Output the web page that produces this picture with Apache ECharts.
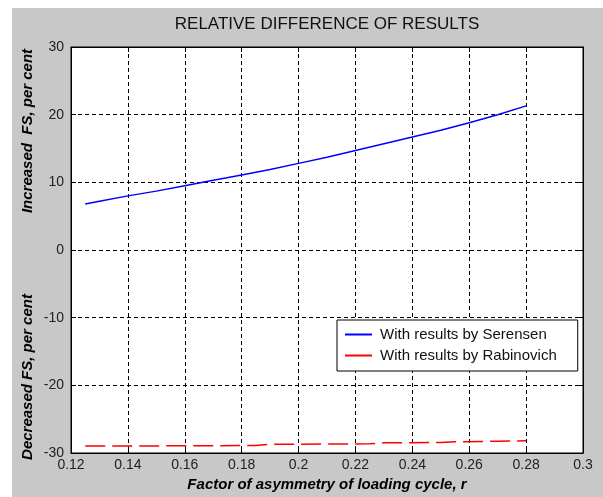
<!DOCTYPE html>
<html>
<head>
<meta charset="utf-8">
<script src="https://cdn.jsdelivr.net/npm/echarts@6/dist/echarts.min.js"></script>
<style>
  html, body { margin: 0; padding: 0; background: #ffffff; }
  #wrap { position: absolute; left: 12px; top: 8px; width: 591px; height: 489px; background: #c8c8c8; }
  #chart { width: 591px; height: 489px; }
</style>
</head>
<body>
<div id="wrap"><div id="chart"></div></div>
<script>
// ---- data ----
const titleText = 'RELATIVE DIFFERENCE OF RESULTS';
const xLabel = 'Factor of asymmetry of loading cycle, r';
const yLabelUpper = 'Increased  FS, per cent';
const yLabelLower = 'Decreased FS, per cent';
const seriesNames = ['With results by Serensen', 'With results by Rabinovich'];

const rSerensen = [0.125, 0.13, 0.14, 0.15, 0.16, 0.17, 0.18, 0.19, 0.20, 0.21, 0.22, 0.23, 0.24, 0.25, 0.26, 0.27, 0.28];
const serensen  = [6.8,   7.2,  8.0,  8.7,  9.5,  10.3, 11.1, 11.9, 12.8, 13.7, 14.7, 15.7, 16.7, 17.7, 18.8, 20.0, 21.3];

const rRabinovich = [0.125, 0.15, 0.185, 0.19, 0.20, 0.225, 0.23, 0.25, 0.255, 0.27, 0.28];
const rabinovich  = [-28.95, -28.95, -28.9, -28.7, -28.7, -28.65, -28.5, -28.45, -28.35, -28.25, -28.2];

const xMin = 0.12, xMax = 0.3, xStep = 0.02;
const yMin = -30, yMax = 30, yStep = 10;

// ---- chart ----
const chart = echarts.init(document.getElementById('chart'), null, { renderer: 'canvas' });
const FONT = 'Liberation Sans, Arial, sans-serif';
const gridLine = { show: true, lineStyle: { color: '#000', type: [4, 3], width: 1 } };
const fmtX = v => String(parseFloat(v.toFixed(2)));
const nameStyle = { fontFamily: FONT, fontSize: 15, fontWeight: 'bold', fontStyle: 'italic', fill: '#000', align: 'center', verticalAlign: 'middle' };

const option = {
  backgroundColor: '#c8c8c8',
  animation: false,
  title: {
    text: titleText, left: 310, top: 3, textAlign: 'center',
    textStyle: { fontFamily: FONT, fontSize: 17, fontWeight: 'normal', color: '#111' }
  },
  grid: { left: 59, right: 20, top: 39, bottom: 41, show: true, backgroundColor: '#fff', borderColor: '#000', borderWidth: 1 },
  legend: {
    orient: 'vertical', left: 325, top: 312,
    backgroundColor: '#fff', borderColor: '#000', borderWidth: 1, borderRadius: 0,
    padding: [7, 21, 8, 8], itemGap: 6, itemWidth: 27, itemHeight: 2,
    icon: 'rect',
    textStyle: { fontFamily: FONT, fontSize: 15, color: '#111', padding: [0, 0, 0, 3] },
    data: seriesNames
  },
  xAxis: [{
    type: 'value', min: xMin, max: xMax, interval: xStep,
    axisLine: { show: true, onZero: false, lineStyle: { color: '#000' } },
    axisTick: { show: true, inside: true, length: 5, lineStyle: { color: '#000' } },
    axisLabel: { formatter: fmtX, fontFamily: FONT, fontSize: 14, color: '#222', margin: 5 },
    splitLine: gridLine,
    name: xLabel, nameLocation: 'middle', nameGap: 24,
    nameTextStyle: { fontFamily: FONT, fontSize: 15, fontWeight: 'bold', fontStyle: 'italic', color: '#000' }
  }, {
    type: 'value', position: 'top', min: xMin, max: xMax, interval: xStep,
    axisLine: { show: true, onZero: false, lineStyle: { color: '#000' } },
    axisTick: { show: true, inside: true, length: 5, lineStyle: { color: '#000' } },
    axisLabel: { show: false }, splitLine: { show: false }
  }],
  yAxis: [{
    type: 'value', min: yMin, max: yMax, interval: yStep,
    axisLine: { show: true, onZero: false, lineStyle: { color: '#000' } },
    axisTick: { show: true, inside: true, length: 5, lineStyle: { color: '#000' } },
    axisLabel: { fontFamily: FONT, fontSize: 14, color: '#222', margin: 7 },
    splitLine: gridLine
  }, {
    type: 'value', position: 'right', min: yMin, max: yMax, interval: yStep,
    axisLine: { show: true, onZero: false, lineStyle: { color: '#000' } },
    axisTick: { show: true, inside: true, length: 5, lineStyle: { color: '#000' } },
    axisLabel: { show: false }, splitLine: { show: false }
  }],
  graphic: [
    { type: 'text', x: 16, y: 123, rotation: Math.PI / 2, style: Object.assign({ text: yLabelUpper }, nameStyle) },
    { type: 'text', x: 16, y: 369, rotation: Math.PI / 2, style: Object.assign({ text: yLabelLower }, nameStyle) }
  ],
  series: [{
    name: seriesNames[0], type: 'line', showSymbol: false, symbol: 'none',
    color: '#0000ff', lineStyle: { color: '#0000ff', width: 1.5 },
    data: rSerensen.map((r, i) => [r, serensen[i]])
  }, {
    name: seriesNames[1], type: 'line', showSymbol: false, symbol: 'none',
    color: '#ff0000', lineStyle: { color: '#ff0000', width: 1.5, type: [20, 7] },
    data: rRabinovich.map((r, i) => [r, rabinovich[i]])
  }]
};
chart.setOption(option);
</script>
</body>
</html>
